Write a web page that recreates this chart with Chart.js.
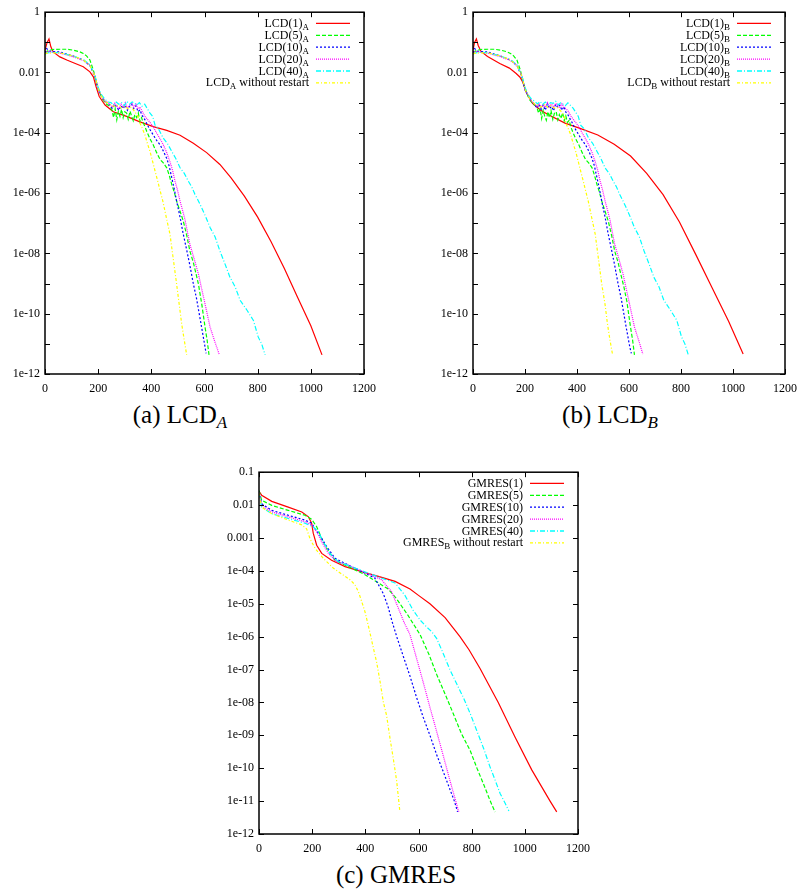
<!DOCTYPE html>
<html lang="en">
<head>
<meta charset="UTF-8" />
<title>LCD and GMRES residual histories</title>
<script src="https://cdn.jsdelivr.net/npm/chart.js@4.4.1/dist/chart.umd.min.js"></script>
<style>
  body { margin: 0; background: #fff; width: 805px; height: 893px; position: relative; overflow: hidden; }
  canvas { position: absolute; }
  .cap { position: absolute; width: 360px; text-align: center; font-family: 'Liberation Serif', serif; font-size: 25px; line-height: 30px; color: #000; }
  .cap sub { font-size: 17px; font-style: italic; vertical-align: -5px; line-height: 0; }
</style>
</head>
<body>
<canvas id="chartA" width="400" height="400" style="left:0;top:0"></canvas>
<canvas id="chartB" width="377" height="400" style="left:428px;top:0"></canvas>
<canvas id="chartC" width="400" height="400" style="left:214px;top:460px"></canvas>
<div class="cap" style="left:0;top:400px">(a) LCD<sub>A</sub></div>
<div class="cap" style="left:430px;top:400px">(b) LCD<sub>B</sub></div>
<div class="cap" style="left:216px;top:860px">(c) GMRES</div>

<script>
// ---- tick labels ----
const xTicks = [0, 200, 400, 600, 800, 1000, 1200];
const yTicksAB = [1e-12, 1e-11, 1e-10, 1e-9, 1e-8, 1e-7, 1e-6, 1e-5, 1e-4, 1e-3, 1e-2, 1e-1, 1];
const yLabelsAB = ['1e-12', '', '1e-10', '', '1e-08', '', '1e-06', '', '1e-04', '', '0.01', '', '1'];
const yTicksC = [1e-12, 1e-11, 1e-10, 1e-9, 1e-8, 1e-7, 1e-6, 1e-5, 1e-4, 1e-3, 1e-2, 1e-1];
const yLabelsC = ['1e-12', '1e-11', '1e-10', '1e-09', '1e-08', '1e-07', '1e-06', '1e-05', '1e-04', '0.001', '0.01', '0.1'];

// ---- (a) LCD_A ----
const labelsA = ['LCD(1)_A', 'LCD(5)_A', 'LCD(10)_A', 'LCD(20)_A', 'LCD(40)_A', 'LCD_A without restart'];
const a1_x = [0, 8, 15, 22, 31, 56, 82, 107, 144, 169, 182, 192, 204, 226, 257, 307, 357, 407, 458, 508, 558, 608, 658, 700, 750, 800, 850, 900, 950, 1000, 1042];
const a1_y = [5.5e-2, 1.0e-1, 1.3e-1, 7.1e-2, 4.8e-2, 3.3e-2, 2.6e-2, 2.1e-2, 1.55e-2, 1.05e-2, 7.2e-3, 3.4e-3, 1.6e-3, 8.3e-4, 5.0e-4, 3.5e-4, 2.3e-4, 1.6e-4, 1.2e-4, 8.3e-5, 4.5e-5, 2.2e-5, 8.9e-6, 3.2e-6, 7.9e-7, 1.6e-7, 2.5e-8, 3.2e-9, 3.5e-10, 4.0e-11, 4.3e-12];
const a5_x = [0, 10, 30, 56, 82, 107, 130, 144, 157, 169, 182, 194, 207, 219, 232, 245, 252, 258, 264, 270, 276, 282, 288, 294, 300, 307, 313, 320, 326, 332, 338, 345, 351, 357, 363, 370, 376, 383, 395, 407, 420, 433, 445, 458, 467, 477, 486, 495, 508, 520, 533, 545, 558, 570, 577, 590, 602, 610, 617];
const a5_y = [4.5e-2, 5.2e-2, 5.8e-2, 5.9e-2, 5.9e-2, 5.5e-2, 4.9e-2, 4.3e-2, 3.5e-2, 2.6e-2, 1.2e-2, 4.4e-3, 2.0e-3, 1.2e-3, 8.9e-4, 7.4e-4, 5.6e-4, 3.2e-4, 6.3e-4, 2.7e-4, 5.2e-4, 3.5e-4, 6.0e-4, 3.2e-4, 5.0e-4, 4.5e-4, 2.8e-4, 5.2e-4, 3.5e-4, 2.5e-4, 4.0e-4, 3.2e-4, 4.5e-4, 2.4e-4, 3.2e-4, 2.1e-4, 1.6e-4, 1.1e-4, 6.3e-5, 4.0e-5, 2.2e-5, 1.3e-5, 1.0e-5, 6.9e-6, 4.0e-6, 1.9e-6, 1.1e-6, 5.5e-7, 2.5e-7, 1.2e-7, 4.0e-8, 1.2e-8, 5.0e-9, 1.8e-9, 9.8e-10, 2.0e-10, 3.6e-11, 1.3e-11, 4.3e-12];
const a10_x = [0, 6, 20, 56, 107, 144, 169, 188, 200, 213, 225, 238, 246, 254, 262, 270, 278, 286, 294, 302, 310, 318, 326, 334, 342, 350, 357, 364, 370, 376, 392, 407, 420, 433, 445, 458, 467, 477, 486, 495, 508, 520, 533, 545, 558, 570, 589, 602, 606];
const a10_y = [4.5e-2, 6.2e-2, 5.0e-2, 4.8e-2, 3.5e-2, 2.6e-2, 1.7e-2, 7.2e-3, 2.6e-3, 1.6e-3, 1.1e-3, 9.5e-4, 7.9e-4, 6.3e-4, 8.9e-4, 7.1e-4, 5.6e-4, 7.9e-4, 6.3e-4, 8.3e-4, 5.6e-4, 7.6e-4, 8.9e-4, 6.3e-4, 7.9e-4, 5.0e-4, 5.8e-4, 4.0e-4, 3.2e-4, 2.7e-4, 1.4e-4, 8.5e-5, 5.6e-5, 4.0e-5, 2.5e-5, 1.4e-5, 7.9e-6, 3.2e-6, 1.4e-6, 5.5e-7, 1.6e-7, 4.4e-8, 1.3e-8, 4.0e-9, 9.8e-10, 3.2e-10, 3.6e-11, 7.9e-12, 4.8e-12];
const a20_x = [0, 8, 30, 56, 107, 144, 169, 188, 200, 213, 225, 238, 246, 254, 262, 270, 278, 286, 294, 302, 310, 318, 326, 334, 342, 350, 358, 366, 376, 390, 407, 420, 433, 445, 458, 470, 480, 489, 498, 508, 526, 545, 560, 577, 590, 605, 621, 640, 655];
const a20_y = [4.2e-2, 5.0e-2, 4.7e-2, 4.4e-2, 3.3e-2, 2.5e-2, 1.7e-2, 7.9e-3, 2.8e-3, 1.7e-3, 1.1e-3, 1.0e-3, 8.3e-4, 7.1e-4, 9.5e-4, 7.6e-4, 6.3e-4, 8.9e-4, 7.1e-4, 1.0e-3, 6.6e-4, 7.9e-4, 1.0e-3, 7.1e-4, 8.9e-4, 6.3e-4, 7.1e-4, 5.0e-4, 3.5e-4, 2.5e-4, 1.6e-4, 9.8e-5, 6.3e-5, 4.0e-5, 2.2e-5, 1.1e-5, 5.6e-6, 2.5e-6, 1.3e-6, 5.5e-7, 1.4e-7, 2.0e-8, 7.1e-9, 2.1e-9, 6.3e-10, 1.6e-10, 3.6e-11, 1.1e-11, 4.6e-12];
const a40_x = [0, 10, 30, 56, 107, 144, 169, 188, 200, 213, 225, 238, 248, 258, 268, 278, 288, 298, 308, 318, 328, 338, 345, 355, 365, 375, 385, 395, 405, 414, 426, 445, 460, 477, 492, 508, 524, 539, 552, 564, 577, 589, 605, 621, 640, 658, 677, 696, 715, 734, 760, 784, 802, 815, 828];
const a40_y = [4.0e-2, 4.5e-2, 4.7e-2, 4.5e-2, 3.5e-2, 2.7e-2, 1.8e-2, 7.9e-3, 3.2e-3, 1.8e-3, 1.3e-3, 1.05e-3, 1.0e-3, 8.3e-4, 1.05e-3, 8.9e-4, 1.0e-3, 7.9e-4, 1.1e-3, 8.9e-4, 1.05e-3, 9.5e-4, 8.3e-4, 1.0e-3, 7.6e-4, 8.9e-4, 6.3e-4, 4.5e-4, 3.5e-4, 1.8e-4, 1.4e-4, 6.6e-5, 4.5e-5, 2.4e-5, 1.4e-5, 6.9e-6, 4.5e-6, 2.5e-6, 1.6e-6, 9.1e-7, 5.5e-7, 3.3e-7, 1.6e-7, 7.2e-8, 3.5e-8, 1.2e-8, 4.5e-9, 1.6e-9, 7.9e-10, 2.8e-10, 1.3e-10, 6.0e-11, 1.7e-11, 1.0e-11, 4.3e-12];
const aFull_x = [0, 10, 56, 107, 144, 169, 188, 200, 213, 225, 238, 250, 262, 275, 288, 300, 313, 325, 338, 350, 357, 366, 376, 385, 395, 405, 414, 424, 433, 443, 451, 460, 470, 482, 495, 505, 514, 524, 533];
const aFull_y = [4.2e-2, 4.4e-2, 4.5e-2, 3.5e-2, 2.6e-2, 1.7e-2, 7.6e-3, 2.8e-3, 1.6e-3, 1.1e-3, 9.5e-4, 7.9e-4, 7.6e-4, 8.3e-4, 6.6e-4, 7.6e-4, 6.3e-4, 7.1e-4, 5.0e-4, 3.5e-4, 2.1e-4, 1.4e-4, 8.5e-5, 4.5e-5, 2.4e-5, 1.1e-5, 5.4e-6, 2.5e-6, 1.2e-6, 5.5e-7, 2.6e-7, 1.1e-7, 4.4e-8, 7.1e-9, 9.8e-10, 2.0e-10, 4.7e-11, 1.3e-11, 4.3e-12];

// ---- (b) LCD_B ----
const labelsB = ['LCD(1)_B', 'LCD(5)_B', 'LCD(10)_B', 'LCD(20)_B', 'LCD(40)_B', 'LCD_B without restart'];
const b1_x = [0, 6, 13, 20, 31, 56, 103, 140, 166, 180, 191, 204, 229, 260, 292, 354, 417, 480, 543, 606, 668, 731, 794, 857, 920, 983, 1039];
const b1_y = [5.5e-2, 1.0e-1, 1.3e-1, 7.9e-2, 5.0e-2, 3.4e-2, 2.0e-2, 1.4e-2, 9.3e-3, 7.1e-3, 4.9e-3, 2.3e-3, 9.5e-4, 5.6e-4, 3.9e-4, 2.1e-4, 1.35e-4, 8.5e-5, 4.2e-5, 1.7e-5, 4.5e-6, 8.9e-7, 1.1e-7, 9.1e-9, 7.1e-10, 5.6e-11, 4.6e-12];
const b5_x = [0, 10, 30, 56, 82, 107, 130, 144, 157, 169, 182, 194, 207, 219, 232, 245, 252, 258, 264, 270, 276, 282, 288, 294, 300, 307, 313, 320, 326, 332, 338, 345, 351, 357, 363, 370, 376, 383, 395, 407, 420, 433, 445, 458, 467, 477, 486, 495, 508, 520, 533, 545, 558, 570, 580, 592, 605, 614, 621];
const b5_y = [4.5e-2, 5.2e-2, 5.8e-2, 5.9e-2, 5.9e-2, 5.5e-2, 4.9e-2, 4.3e-2, 3.5e-2, 2.6e-2, 1.2e-2, 4.4e-3, 2.0e-3, 1.2e-3, 8.9e-4, 7.4e-4, 4.5e-4, 6.3e-4, 3.0e-4, 5.6e-4, 3.5e-4, 2.6e-4, 5.0e-4, 3.2e-4, 5.5e-4, 2.8e-4, 4.4e-4, 5.0e-4, 2.7e-4, 4.0e-4, 3.0e-4, 4.6e-4, 2.5e-4, 3.6e-4, 2.2e-4, 2.6e-4, 1.6e-4, 1.1e-4, 6.3e-5, 4.0e-5, 2.2e-5, 1.3e-5, 1.0e-5, 6.9e-6, 4.0e-6, 1.9e-6, 1.1e-6, 5.5e-7, 2.5e-7, 1.2e-7, 4.0e-8, 1.2e-8, 5.0e-9, 1.8e-9, 8.0e-10, 2.5e-10, 4.0e-11, 1.3e-11, 4.3e-12];
const b10_x = [0, 6, 20, 56, 107, 144, 169, 188, 200, 213, 225, 238, 246, 254, 262, 270, 278, 286, 294, 302, 310, 318, 326, 334, 342, 350, 357, 364, 370, 376, 392, 407, 420, 433, 445, 458, 467, 477, 486, 495, 508, 520, 533, 545, 558, 570, 589, 603, 609];
const b10_y = [4.5e-2, 6.2e-2, 5.0e-2, 4.8e-2, 3.5e-2, 2.6e-2, 1.7e-2, 7.2e-3, 2.6e-3, 1.6e-3, 1.1e-3, 8.5e-4, 6.6e-4, 8.9e-4, 6.0e-4, 8.3e-4, 5.6e-4, 9.1e-4, 6.3e-4, 7.6e-4, 5.4e-4, 8.9e-4, 6.9e-4, 8.3e-4, 5.6e-4, 7.4e-4, 4.8e-4, 4.2e-4, 3.2e-4, 2.7e-4, 1.4e-4, 8.5e-5, 5.6e-5, 4.0e-5, 2.5e-5, 1.4e-5, 7.9e-6, 3.2e-6, 1.4e-6, 5.5e-7, 1.6e-7, 4.4e-8, 1.3e-8, 4.0e-9, 9.8e-10, 3.2e-10, 3.6e-11, 7.9e-12, 4.8e-12];
const b20_x = [0, 8, 30, 56, 107, 144, 169, 188, 200, 213, 225, 238, 246, 254, 262, 270, 278, 286, 294, 302, 310, 318, 326, 334, 342, 350, 358, 366, 376, 390, 407, 420, 433, 445, 458, 470, 480, 489, 498, 508, 526, 545, 560, 577, 590, 605, 621, 640, 653];
const b20_y = [4.2e-2, 5.0e-2, 4.7e-2, 4.4e-2, 3.3e-2, 2.5e-2, 1.7e-2, 7.9e-3, 2.8e-3, 1.7e-3, 1.1e-3, 9.1e-4, 7.6e-4, 9.5e-4, 6.9e-4, 8.7e-4, 7.1e-4, 1.0e-3, 7.6e-4, 8.9e-4, 7.1e-4, 9.5e-4, 8.1e-4, 6.6e-4, 9.1e-4, 6.9e-4, 6.3e-4, 5.2e-4, 3.6e-4, 2.5e-4, 1.6e-4, 9.8e-5, 6.3e-5, 4.0e-5, 2.2e-5, 1.1e-5, 5.6e-6, 2.5e-6, 1.3e-6, 5.5e-7, 1.4e-7, 2.0e-8, 7.1e-9, 2.1e-9, 6.3e-10, 1.6e-10, 3.6e-11, 1.1e-11, 4.6e-12];
const b40_x = [0, 10, 30, 56, 107, 144, 169, 188, 200, 213, 225, 238, 248, 258, 268, 278, 288, 298, 308, 318, 328, 338, 345, 355, 365, 375, 385, 395, 405, 414, 426, 445, 460, 477, 492, 508, 524, 539, 552, 564, 577, 589, 605, 621, 640, 658, 677, 696, 715, 734, 760, 784, 802, 815, 828];
const b40_y = [4.0e-2, 4.5e-2, 4.7e-2, 4.5e-2, 3.5e-2, 2.7e-2, 1.8e-2, 7.9e-3, 3.2e-3, 1.8e-3, 1.3e-3, 1.1e-3, 9.1e-4, 1.1e-3, 8.7e-4, 1.05e-3, 8.3e-4, 1.0e-3, 9.5e-4, 1.1e-3, 8.5e-4, 1.0e-3, 9.1e-4, 7.9e-4, 9.8e-4, 8.1e-4, 6.6e-4, 4.8e-4, 3.5e-4, 1.8e-4, 1.4e-4, 6.6e-5, 4.5e-5, 2.4e-5, 1.4e-5, 6.9e-6, 4.5e-6, 2.5e-6, 1.6e-6, 9.1e-7, 5.5e-7, 3.3e-7, 1.6e-7, 7.2e-8, 3.5e-8, 1.2e-8, 4.5e-9, 1.6e-9, 7.9e-10, 2.8e-10, 1.3e-10, 6.0e-11, 1.7e-11, 1.0e-11, 4.3e-12];
const bFull_x = [0, 10, 56, 107, 144, 169, 188, 200, 213, 225, 238, 250, 262, 275, 288, 300, 313, 325, 338, 350, 357, 366, 376, 385, 395, 405, 414, 424, 433, 443, 451, 460, 470, 482, 495, 508, 517, 527, 537];
const bFull_y = [4.2e-2, 4.4e-2, 4.5e-2, 3.5e-2, 2.6e-2, 1.7e-2, 7.6e-3, 2.8e-3, 1.6e-3, 1.1e-3, 8.9e-4, 8.3e-4, 7.1e-4, 8.7e-4, 6.9e-4, 7.9e-4, 6.6e-4, 6.9e-4, 5.2e-4, 3.6e-4, 2.1e-4, 1.4e-4, 8.5e-5, 4.5e-5, 2.4e-5, 1.1e-5, 5.4e-6, 2.5e-6, 1.2e-6, 5.5e-7, 2.6e-7, 1.1e-7, 4.4e-8, 7.1e-9, 9.8e-10, 2.0e-10, 4.7e-11, 1.3e-11, 4.3e-12];

// ---- (c) GMRES ----
const labelsC = ['GMRES(1)', 'GMRES(5)', 'GMRES(10)', 'GMRES(20)', 'GMRES(40)', 'GMRES_B without restart'];
const c1_x = [0, 10, 48, 110, 161, 186, 198, 204, 217, 236, 273, 324, 386, 449, 512, 568, 600, 643, 700, 756, 790, 831, 900, 963, 1026, 1095, 1120];
const c1_y = [2.6e-2, 2.0e-2, 1.3e-2, 8.7e-3, 6.2e-3, 4.4e-3, 2.8e-3, 1.4e-3, 6.0e-4, 3.4e-4, 2.1e-4, 1.35e-4, 9.5e-5, 6.8e-5, 4.8e-5, 2.8e-5, 1.8e-5, 1.0e-5, 3.8e-6, 1.0e-6, 4.0e-7, 1.1e-7, 1.0e-8, 8.9e-10, 8.9e-11, 1.0e-11, 4.7e-12];
const c5_x = [0, 10, 48, 110, 173, 198, 217, 236, 255, 286, 336, 399, 436, 486, 518, 560, 606, 640, 668, 700, 731, 762, 794, 820, 844, 870, 888];
const c5_y = [2.8e-2, 1.4e-2, 9.8e-3, 6.9e-3, 4.9e-3, 3.7e-3, 2.2e-3, 9.5e-4, 4.8e-4, 2.1e-4, 1.35e-4, 7.6e-5, 5.0e-5, 2.8e-5, 1.4e-5, 4.5e-6, 1.15e-6, 2.8e-7, 7.2e-8, 1.8e-8, 4.5e-9, 1.1e-9, 3.5e-10, 1.0e-10, 3.4e-11, 1.0e-11, 4.7e-12];
const c10_x = [0, 10, 48, 110, 173, 198, 211, 229, 255, 286, 336, 399, 436, 468, 486, 499, 518, 543, 568, 593, 618, 643, 668, 693, 718, 735, 747];
const c10_y = [2.5e-2, 1.1e-2, 6.9e-3, 4.9e-3, 3.5e-3, 2.8e-3, 1.9e-3, 1.2e-3, 5.4e-4, 2.4e-4, 1.5e-4, 8.5e-5, 6.0e-5, 2.0e-5, 7.9e-6, 3.2e-6, 1.0e-6, 2.5e-7, 6.3e-8, 1.4e-8, 3.5e-9, 1.0e-9, 2.6e-10, 7.9e-11, 2.3e-11, 1.0e-11, 4.7e-12];
const c20_x = [0, 10, 48, 110, 173, 198, 217, 236, 261, 292, 336, 399, 461, 499, 524, 545, 568, 587, 606, 625, 643, 662, 681, 700, 718, 735, 752];
const c20_y = [2.5e-2, 9.8e-3, 6.2e-3, 4.4e-3, 3.1e-3, 2.5e-3, 1.55e-3, 7.6e-4, 3.4e-4, 1.9e-4, 1.5e-4, 8.9e-5, 5.4e-5, 2.3e-5, 7.4e-6, 2.8e-6, 1.15e-6, 3.2e-7, 9.1e-8, 2.5e-8, 7.1e-9, 2.0e-9, 5.5e-10, 1.5e-10, 4.3e-11, 1.4e-11, 4.6e-12];
const c40_x = [0, 10, 48, 110, 173, 204, 223, 242, 267, 298, 348, 411, 461, 512, 549, 580, 606, 630, 650, 668, 690, 718, 745, 769, 795, 819, 845, 869, 890, 907, 925, 940];
const c40_y = [2.4e-2, 8.7e-3, 5.5e-3, 3.9e-3, 2.8e-3, 2.2e-3, 1.55e-3, 7.6e-4, 3.4e-4, 1.9e-4, 1.35e-4, 8.5e-5, 6.0e-5, 4.3e-5, 1.8e-5, 6.3e-6, 3.2e-6, 2.0e-6, 1.4e-6, 8.9e-7, 3.5e-7, 1.0e-7, 3.5e-8, 1.4e-8, 4.5e-9, 1.4e-9, 4.0e-10, 1.1e-10, 4.0e-11, 1.7e-11, 8.9e-12, 5.0e-12];
const cFull_x = [0, 10, 48, 110, 161, 179, 192, 211, 242, 280, 324, 342, 361, 374, 386, 399, 415, 430, 443, 455, 468, 480, 493, 505, 518, 530];
const cFull_y = [2.4e-2, 8.7e-3, 5.5e-3, 3.5e-3, 2.5e-3, 1.9e-3, 9.5e-4, 4.8e-4, 2.4e-4, 1.2e-4, 6.8e-5, 5.4e-5, 3.8e-5, 2.3e-5, 1.2e-5, 5.6e-6, 1.6e-6, 4.6e-7, 1.6e-7, 4.5e-8, 1.0e-8, 4.0e-9, 7.9e-10, 2.0e-10, 4.0e-11, 4.7e-12];

// gnuplot-like line styles, one per restart length
const seriesColors = ['#ff0000', '#00ff00', '#0000ff', '#ff00ff', '#00ffff', '#ffff00'];
const seriesDash = [[], [4, 2], [2, 2], [1, 1], [5, 2, 1, 2], [3, 2, 1, 2]];

const serif = 'Liberation Serif';

function buildDatasets(labels, xs, ys) {
  return labels.map((label, i) => ({
    label,
    data: xs[i].map((x, j) => ({ x, y: ys[i][j] })),
    borderColor: seriesColors[i],
    borderDash: seriesDash[i],
    borderWidth: 1.2,
    pointRadius: 0,
    fill: false,
    order: -i
  }));
}

// border box + inward tick marks on all four sides
const frame = {
  id: 'frame',
  afterDraw(chart) {
    const { ctx, chartArea: a, scales } = chart;
    ctx.save();
    ctx.strokeStyle = '#000';
    ctx.lineWidth = 1;
    ctx.beginPath();
    scales.x.ticks.forEach(t => {
      const px = Math.round(scales.x.getPixelForValue(t.value)) + 0.5;
      ctx.moveTo(px, a.bottom); ctx.lineTo(px, a.bottom - 5);
      ctx.moveTo(px, a.top); ctx.lineTo(px, a.top + 5);
    });
    scales.y.ticks.forEach(t => {
      const py = Math.round(scales.y.getPixelForValue(t.value)) + 0.5;
      ctx.moveTo(a.left, py); ctx.lineTo(a.left + 5, py);
      ctx.moveTo(a.right, py); ctx.lineTo(a.right - 5, py);
    });
    ctx.stroke();
    ctx.lineWidth = 1.5;
    ctx.strokeRect(a.left, a.top, a.right - a.left, a.bottom - a.top);
    ctx.restore();
  }
};

// key in the top right corner: right-aligned text, sample line after it
const gpLegend = {
  id: 'gpLegend',
  afterDatasetsDraw(chart) {
    const { ctx, chartArea: a } = chart;
    ctx.save();
    chart.data.datasets.forEach((ds, i) => {
      const y = a.top + 10.7 + i * 11.9;
      ctx.strokeStyle = ds.borderColor;
      ctx.lineWidth = 1.3;
      ctx.setLineDash(ds.borderDash);
      ctx.beginPath();
      ctx.moveTo(a.right - 48, y + 0.5);
      ctx.lineTo(a.right - 14, y + 0.5);
      ctx.stroke();
      ctx.setLineDash([]);

      const parts = ds.label.split(/_(\w)/);
      const fonts = parts.map((p, k) => (k % 2 ? '9px ' : '12px ') + '"' + serif + '"');
      let total = 0;
      const widths = parts.map((p, k) => { ctx.font = fonts[k]; const w = ctx.measureText(p).width; total += w; return w; });
      let x = a.right - 55 - total;
      ctx.fillStyle = '#000';
      ctx.textBaseline = 'alphabetic';
      parts.forEach((p, k) => {
        ctx.font = fonts[k];
        ctx.fillText(p, x, y + (k % 2 ? 7 : 4));
        x += widths[k];
      });
    });
    ctx.restore();
  }
};

function makeChart(id, datasets, yTicks, yLabels, yMax, padRight) {
  return new Chart(document.getElementById(id), {
    type: 'line',
    data: { datasets },
    options: {
      responsive: false,
      animation: false,
      devicePixelRatio: 1,
      layout: { padding: { top: 10, right: padRight, left: 0, bottom: 0 } },
      plugins: { legend: { display: false }, tooltip: { enabled: false } },
      scales: {
        x: {
          type: 'linear', min: 0, max: 1200,
          grid: { display: false, drawTicks: false },
          border: { display: false },
          afterBuildTicks: s => { s.ticks = xTicks.map(v => ({ value: v })); },
          ticks: { autoSkip: false, maxRotation: 0, padding: 8, color: '#000', font: { family: serif, size: 12 },
                   callback: v => String(v) },
          afterFit: s => { s.height = 26; }
        },
        y: {
          type: 'logarithmic', min: 1e-12, max: yMax,
          grid: { display: false, drawTicks: false },
          border: { display: false },
          afterBuildTicks: s => { s.ticks = yTicks.map(v => ({ value: v })); },
          ticks: { autoSkip: false, padding: 5, color: '#000', font: { family: serif, size: 12 },
                   callback: (v, i) => yLabels[i] },
          afterFit: s => { s.width = 45; }
        }
      }
    },
    plugins: [frame, gpLegend]
  });
}

makeChart('chartA',
  buildDatasets(labelsA, [a1_x, a5_x, a10_x, a20_x, a40_x, aFull_x], [a1_y, a5_y, a10_y, a20_y, a40_y, aFull_y]),
  yTicksAB, yLabelsAB, 1, 36);
makeChart('chartB',
  buildDatasets(labelsB, [b1_x, b5_x, b10_x, b20_x, b40_x, bFull_x], [b1_y, b5_y, b10_y, b20_y, b40_y, bFull_y]),
  yTicksAB, yLabelsAB, 1, 14);
makeChart('chartC',
  buildDatasets(labelsC, [c1_x, c5_x, c10_x, c20_x, c40_x, cFull_x], [c1_y, c5_y, c10_y, c20_y, c40_y, cFull_y]),
  yTicksC, yLabelsC, 0.1, 36);
</script>
</body>
</html>
